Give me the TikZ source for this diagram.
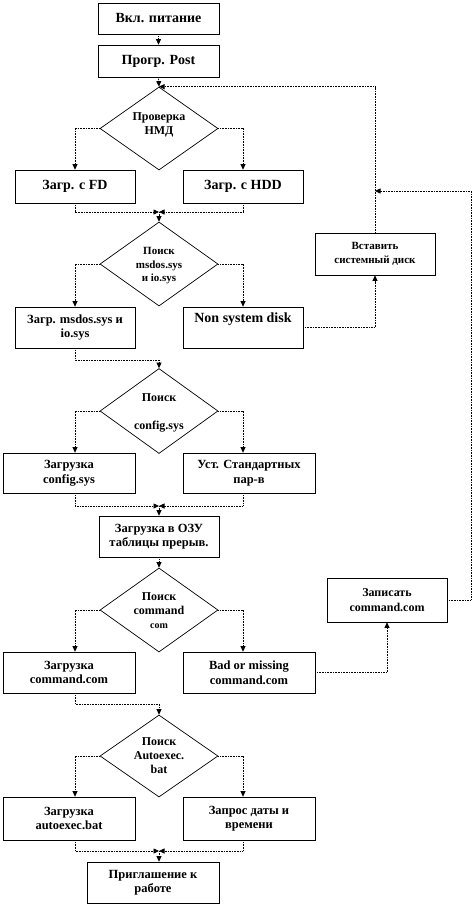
\documentclass[tikz,border=0pt]{standalone}
\usepackage{fontspec}
\setmainfont{Liberation Serif}
\usetikzlibrary{arrows.meta,shapes.geometric,calc}
\begin{document}
\begin{tikzpicture}[x=1pt,y=-1pt,
  box/.style={draw,line width=0.7pt,rectangle,inner sep=1pt,align=center,
    font=\fontsize{12.5}{14.5}\selectfont\bfseries},
  bigbox/.style={box,font=\fontsize{14}{16}\selectfont\bfseries},
  decision/.style={draw,line width=0.7pt,diamond,inner sep=0pt,minimum width=118pt},
  dtext/.style={align=center,inner sep=0pt,font=\fontsize{12}{14}\selectfont\bfseries},
  dot/.style={line width=0.8pt,dash pattern=on 0.8pt off 0.8pt},
  arr/.style={dot,-{Triangle[length=5.5pt,width=5pt]}}]
\useasboundingbox (0,0) rectangle (472,906);
\coordinate (Lx) at (75,0);
\coordinate (Rx) at (243,0);
\coordinate (Fx) at (471,0);
% nodes
\node[bigbox,minimum width=121pt,minimum height=31pt] (on) at (158.5,18.5) {Вкл. питание};
\node[bigbox,minimum width=121pt,minimum height=32pt] (post) at (158.5,61) {Прогр. Post};
\node[decision,minimum height=83pt] (d1) at (159,128.5) {};
\node[dtext] (t1) at ([yshift=4pt]d1.center) {Проверка\\НМД};
\node[bigbox,minimum width=120pt,minimum height=33pt] (fd) at (75,186.5) {Загр. с FD};
\node[bigbox,minimum width=120pt,minimum height=33pt] (hdd) at (243,186.5) {Загр. с HDD};
\coordinate (m1) at (159,212);
\node[decision,minimum height=84pt] (d2) at (159,264) {};
\node[dtext,font=\fontsize{11}{13.5}\selectfont\bfseries] (t2) at ([yshift=-2pt]d2.center) {Поиск\\msdos.sys\\и io.sys};
\node[box,minimum width=120pt,minimum height=41pt] (msd) at (75,327.5) {Загр. msdos.sys и\\io.sys};
\node[bigbox,minimum width=120pt,minimum height=41pt] (nsd) at (243,327.5) {Non system disk\\[-2pt]\strut};
\node[box,minimum width=120pt,minimum height=42pt,font=\fontsize{11}{14}\selectfont\bfseries] (ins) at (375,254) {Вставить\\системный диск};
\coordinate (m2) at (159,360);
\node[decision,minimum height=85pt] (d3) at (159,411) {};
\node[dtext] (t3) at ([yshift=-2pt]d3.center) {Поиск\\[14pt]config.sys};
\node[box,minimum width=132pt,minimum height=40pt] (cfg) at (69,473) {Загрузка\\config.sys};
\node[box,minimum width=132pt,minimum height=40pt] (std) at (249,473) {Уст. Стандартных\\пар-в};
\coordinate (m3) at (159,506);
\node[box,minimum width=120pt,minimum height=41pt] (ram) at (159,536.5) {Загрузка в ОЗУ\\таблицы прерыв.};
\node[decision,minimum height=84pt] (d4) at (159,610) {};
\node[dtext] (t4) at ([yshift=-1pt]d4.center) {Поиск\\command\\{\fontsize{10}{12}\selectfont com}};
\node[box,minimum width=120pt,minimum height=44pt,font=\fontsize{12}{14.5}\selectfont\bfseries] (wr) at (387,600) {Записать\\command.com};
\node[box,minimum width=132pt,minimum height=41pt] (cmd) at (69,672.5) {Загрузка\\command.com};
\node[box,minimum width=132pt,minimum height=41pt] (bad) at (249,672.5) {Bad or missing\\command.com};
\coordinate (m4) at (159,704);
\node[decision,minimum height=82pt] (d5) at (159,756) {};
\node[dtext] (t5) at (d5.center) {Поиск\\Autoexec.\\bat};
\node[box,minimum width=132pt,minimum height=43pt] (aut) at (69,818.5) {Загрузка\\autoexec.bat};
\node[box,minimum width=132pt,minimum height=43pt] (dat) at (249,818.5) {Запрос даты и\\времени};
\coordinate (m5) at (159,851);
\node[box,minimum width=132pt,minimum height=41pt] (inv) at (153,882.5) {Приглашение к\\работе};
\coordinate (j1) at (375,191);
% connectors
\draw[arr] (on.south) -- (post.north);
\draw[arr] (post.south) -- (d1.north);
\draw[arr] (d1.west) -| (Lx |- fd.north);
\draw[arr] (d1.east) -| (Rx |- hdd.north);
\draw[arr] (fd.south) |- (m1);
\draw[arr] (hdd.south) |- (m1);
\draw[arr] (m1) -- (d2.north);
\draw[arr] (d2.west) -| (Lx |- msd.north);
\draw[arr] (d2.east) -| (Rx |- nsd.north);
\draw[arr] (nsd.east) -| (ins.south);
\draw[arr] (ins.north) |- (d1.north);
\draw[arr] (msd.south) |- (m2) -- (d3.north);
\draw[arr] (d3.west) -| (Lx |- cfg.north);
\draw[arr] (d3.east) -| (Rx |- std.north);
\draw[arr] (Lx |- cfg.south) |- (m3);
\draw[arr] (Rx |- std.south) |- (m3);
\draw[arr] (m3) -- (ram.north);
\draw[arr] (ram.south) -- (d4.north);
\draw[arr] (d4.west) -| (Lx |- cmd.north);
\draw[arr] (d4.east) -| (Rx |- bad.north);
\draw[arr] (bad.east) -| (wr.south);
\draw[arr] (wr.east) -| (Fx |- j1) -- (j1);
\draw[arr] (Lx |- cmd.south) |- (m4) -- (d5.north);
\draw[arr] (d5.west) -| (Lx |- aut.north);
\draw[arr] (d5.east) -| (Rx |- dat.north);
\draw[arr] (Lx |- aut.south) |- (m5);
\draw[arr] (Rx |- dat.south) |- (m5);
\draw[arr] (m5) -- (m5 |- inv.north);
\end{tikzpicture}
\end{document}
